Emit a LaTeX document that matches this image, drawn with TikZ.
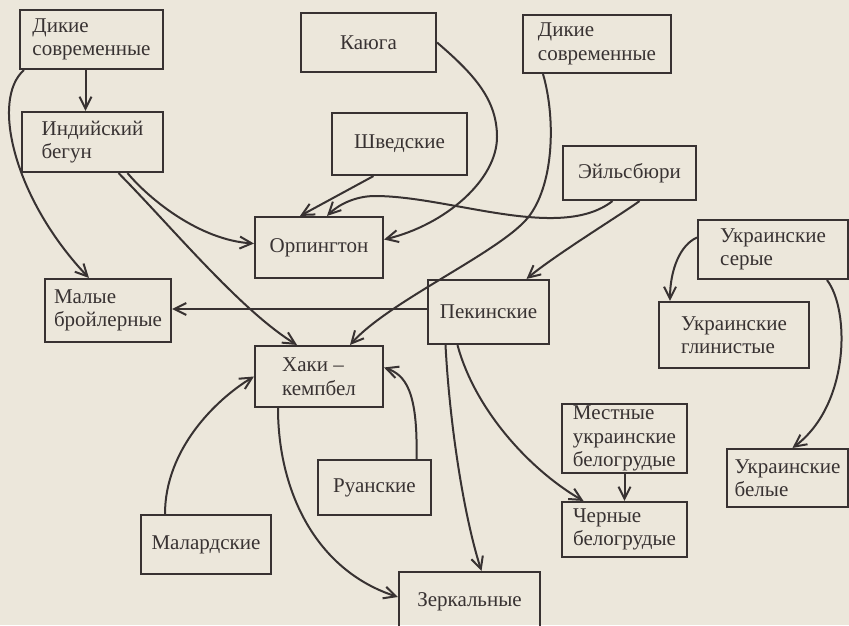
\documentclass[tikz,border=0pt]{standalone}
\usepackage{fontspec}
\setmainfont{Liberation Serif}
\usetikzlibrary{arrows.meta}
\definecolor{paper}{RGB}{236,231,219}
\definecolor{ink}{RGB}{56,50,50}

\begin{document}
\begin{tikzpicture}[x = 1pt, y = -1pt,
	breed/.style = {draw = ink, line width = 2.1pt, text = ink, align = left, inner sep = 0pt, font = \fontsize{21}{23.5}\selectfont},
	boxsize/.style 2 args = {minimum width = #1pt, minimum height = #2pt},
	link/.style = {draw = ink, line width = 2pt, -{Straight Barb[length = 12pt, width = 12pt]}}]
\fill[paper] (0,0) rectangle (849,625);
\useasboundingbox (0,0) rectangle (849,625);
\clip (0,0) rectangle (849,625);

\node[breed, boxsize = {143}{59}] (wildL) at (91.5,39.5) {Дикие\\современные};
\node[breed, boxsize = {141}{60}] (runner) at (92.5,142) {Индийский\\бегун};
\node[breed, boxsize = {135}{59}] (cayuga) at (368.5,42.5) {Каюга};
\node[breed, boxsize = {148}{58}] (wildR) at (597,44) {Дикие\\современные};
\node[breed, boxsize = {135}{62}] (swedish) at (399.5,144) {Шведские};
\node[breed, boxsize = {133}{54}] (aylesbury) at (629.5,173) {Эйльсбюри};
\node[breed, boxsize = {128}{61}] (orpington) at (319,247.5) {Орпингтон};
\node[breed, boxsize = {126}{63}] (broiler) at (108,310.5) {Малые\\бройлерные};
\node[breed, boxsize = {121}{64}] (pekin) at (488.5,312) {Пекинские};
\node[breed, boxsize = {128}{61}] (khaki) at (319,376.5) {Хаки~--\\кемпбел};
\node[breed, boxsize = {113}{55}] (rouen) at (374.5,487.5) {Руанские};
\node[breed, boxsize = {130}{59}] (mallard) at (206,544.5) {Малардские};
\node[breed, boxsize = {141}{60}] (mirror) at (469.5,602) {Зеркальные};
\node[breed, boxsize = {150}{59}] (ukrgrey) at (773,249.5) {Украинские\\серые};
\node[breed, boxsize = {150}{66}] (ukrclay) at (734,335) {Украинские\\глинистые};
\node[breed, boxsize = {125}{69}] (localwb) at (624.5,438.5) {Местные\\украинские\\белогрудые};
\node[breed, boxsize = {125}{55}] (blackwb) at (624.5,529.5) {Черные\\белогрудые};
\node[breed, boxsize = {121}{58}] (ukrwhite) at (787.5,478) {Украинские\\белые};

\draw[link] ([xshift = -6pt]wildL.south) -- ([xshift = -6pt]wildL.south |- runner.north);
\draw[link] ([xshift = 5pt]wildL.south west) .. controls (-10,100) and (15,200) .. ([xshift = 45pt]broiler.north west);
\draw[link] ([xshift = 35pt]runner.south) .. controls (150,200) and (200,240) .. ([yshift = 4pt]orpington.west);
\draw[link] ([xshift = 26pt]runner.south) .. controls (170,225) and (240,310) .. ([xshift = -22pt]khaki.north);
\draw[link] (cayuga.east) .. controls (475,75) and (497,100) .. (497,137) .. controls (497,180) and (445,225) .. ([yshift = 8pt]orpington.east);
\draw[link] ([xshift = -26pt]swedish.south) -- ([xshift = -19pt]orpington.north);
\draw[link] ([xshift = -17pt]aylesbury.south) .. controls (560,242) and (450,196) .. (375,196) .. controls (355,196) and (338,205) .. ([xshift = 8pt]orpington.north);
\draw[link] ([xshift = 10pt]aylesbury.south) .. controls (625,212) and (555,255) .. ([xshift = 38pt]pekin.north);
\draw[link] ([xshift = -54pt]wildR.south) .. controls (555,115) and (555,180) .. (530,215) .. controls (505,250) and (390,300) .. ([xshift = 31pt]khaki.north);
\draw[link] ([yshift = 3pt]pekin.west) -- ([yshift = 3pt]pekin.west -| broiler.east);
\draw[link] ([xshift = -43pt]pekin.south) .. controls (450,430) and (465,520) .. ([xshift = 12pt]mirror.north);
\draw[link] ([xshift = -31pt]pekin.south) .. controls (475,410) and (530,470) .. ([xshift = -41pt]blackwb.north);
\draw[link] (localwb) -- (blackwb);
\draw[link] ([yshift = 12pt]ukrgrey.west) .. controls (680,245) and (670,270) .. ([xshift = -64pt]ukrclay.north);
\draw[link] ([xshift = 54pt]ukrgrey.south) .. controls (850,310) and (850,405) .. ([xshift = 5pt]ukrwhite.north);
\draw[link] ([xshift = -41pt]khaki.south) .. controls (278,490) and (315,570) .. ([yshift = 5pt]mirror.west);
\draw[link] ([xshift = -41pt]mallard.north) .. controls (165,450) and (215,400) .. (khaki.west);
\draw[link] ([xshift = 42pt]rouen.north) .. controls (418,390) and (405,375) .. ([yshift = 9pt]khaki.east);
\end{tikzpicture}
\end{document}
